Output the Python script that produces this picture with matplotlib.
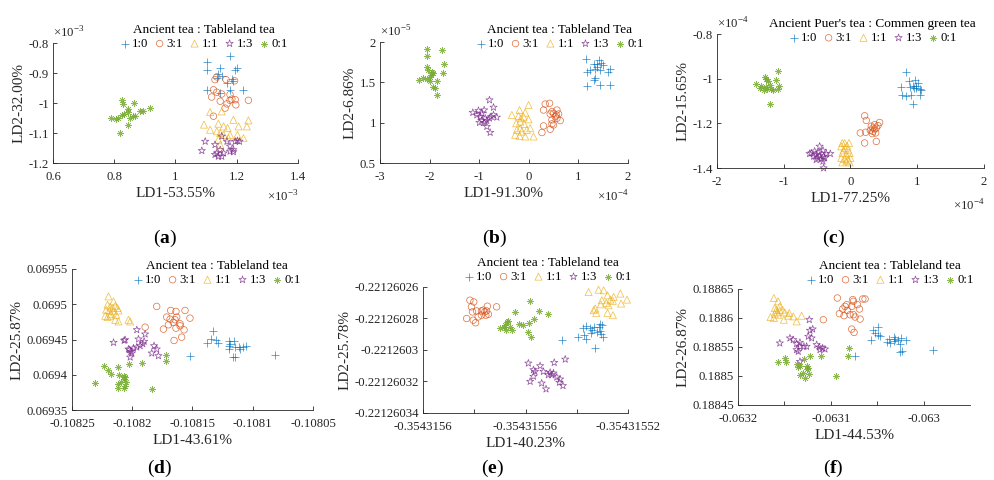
import numpy as np
import matplotlib.pyplot as plt

plt.rcParams['font.family'] = ['Liberation Serif', 'DejaVu Serif']
plt.rcParams['mathtext.fontset'] = 'custom'
plt.rcParams['mathtext.rm'] = 'Liberation Serif'
plt.rcParams['mathtext.bf'] = 'Liberation Serif:bold'
plt.rcParams['axes.unicode_minus'] = False

GROUPS = ['1:0', '3:1', '1:1', '1:3', '0:1']
COLORS = ['#0072BD', '#D95319', '#EDB120', '#7E2F8E', '#77AC30']
ASTER = (8, 2, 0)
MARKERS = ['+', 'o', '^', '*', ASTER]
SIZES = [28, 22, 26, 30, 20]

# ---- (a)  x, y in units of 1e-3
a_x_10 = [1.102, 1.104, 1.146, 1.178, 1.189, 1.135, 1.151, 1.195, 1.200, 1.178, 1.222, 1.102, 1.146, 1.168, 1.184, 1.140]
a_y_10 = [-0.864, -0.889, -0.883, -0.844, -0.926, -0.917, -0.909, -0.889, -0.883, -0.956, -0.956, -0.956, -0.967, -0.933, -0.920, -0.902]
a_x_31 = [1.129, 1.135, 1.165, 1.193, 1.124, 1.135, 1.151, 1.178, 1.118, 1.146, 1.162, 1.178, 1.195, 1.197, 1.238, 1.124, 1.168, 1.184]
a_y_31 = [-0.922, -0.913, -0.922, -0.926, -0.956, -0.964, -0.970, -0.972, -0.980, -0.994, -1.017, -0.991, -0.989, -1.006, -0.991, -1.044, -1.003, -0.987]
a_x_11 = [1.113, 1.093, 1.151, 1.140, 1.157, 1.170, 1.189, 1.238, 1.206, 1.233, 1.113, 1.135, 1.146, 1.157, 1.178, 1.202, 1.222, 1.140, 1.173, 1.146]
a_y_11 = [-1.030, -1.072, -1.028, -1.069, -1.078, -1.083, -1.056, -1.058, -1.078, -1.078, -1.089, -1.094, -1.100, -1.106, -1.106, -1.106, -1.117, -1.122, -1.117, -1.139]
a_x_13 = [1.097, 1.086, 1.129, 1.151, 1.168, 1.178, 1.189, 1.202, 1.209, 1.135, 1.146, 1.157, 1.140, 1.151, 1.129, 1.178, 1.189, 1.195]
a_y_13 = [-1.128, -1.159, -1.139, -1.111, -1.128, -1.144, -1.156, -1.126, -1.128, -1.167, -1.156, -1.167, -1.178, -1.178, -1.172, -1.161, -1.163, -1.128]
a_x_01 = [0.826, 0.827, 0.865, 0.846, 0.862, 0.791, 0.807, 0.824, 0.831, 0.846, 0.884, 0.893, 0.917, 0.867, 0.846, 0.820, 0.813, 0.851]
a_y_01 = [-0.989, -1.002, -1.000, -1.020, -1.044, -1.050, -1.053, -1.039, -1.036, -1.031, -1.028, -1.028, -1.017, -1.044, -1.072, -1.100, -1.050, -1.050]

# ---- (b)  x in 1e-4, y in 1e-5
b_x_10 = [1.159, 1.307, 1.374, 1.341, 1.408, 1.455, 1.428, 1.495, 1.643, 1.590, 1.172, 1.240, 1.341, 1.307, 1.172, 1.428, 1.643, 1.374]
b_y_10 = [1.794, 1.733, 1.733, 1.671, 1.774, 1.741, 1.651, 1.712, 1.671, 1.630, 1.630, 1.651, 1.548, 1.527, 1.453, 1.466, 1.466, 1.692]
b_x_31 = [0.331, 0.419, 0.297, 0.466, 0.432, 0.499, 0.600, 0.533, 0.567, 0.634, 0.466, 0.499, 0.297, 0.264, 0.432, 0.466, 0.553, 0.567]
b_y_31 = [1.231, 1.240, 1.157, 1.137, 1.108, 1.116, 1.108, 1.075, 1.055, 1.026, 1.034, 0.972, 0.960, 0.878, 0.919, 0.985, 1.096, 1.157]
b_x_11 = [-0.342, -0.187, -0.005, -0.073, -0.207, -0.106, -0.005, -0.174, -0.254, -0.093, 0.028, -0.174, -0.275, -0.187, -0.073, 0.096, -0.140, -0.039, -0.241, -0.160]
b_y_11 = [1.096, 1.157, 1.219, 1.125, 1.083, 1.075, 1.042, 1.014, 0.993, 0.985, 0.931, 0.931, 0.849, 0.837, 0.829, 0.829, 0.890, 0.911, 0.911, 1.055]
b_x_13 = [-0.793, -0.712, -1.129, -1.015, -0.900, -0.981, -0.948, -0.900, -0.847, -0.793, -0.759, -0.712, -0.847, -0.779, -0.995, -0.645, -0.880, -1.048, -0.948]
b_y_13 = [1.281, 1.190, 1.125, 1.149, 1.157, 1.075, 1.026, 1.001, 1.026, 1.055, 1.075, 1.096, 0.952, 0.878, 1.001, 1.067, 1.055, 1.096, 1.116]
b_x_01 = [-2.058, -1.742, -2.058, -1.708, -2.044, -2.024, -1.957, -1.923, -1.970, -2.206, -2.125, -2.058, -1.856, -1.735, -1.991, -1.923, -1.890, -1.856, -1.991]
b_y_01 = [1.918, 1.905, 1.823, 1.725, 1.692, 1.651, 1.630, 1.618, 1.589, 1.527, 1.548, 1.540, 1.519, 1.610, 1.515, 1.437, 1.425, 1.342, 1.568]

# ---- (c)  x, y in 1e-4
c_x_10 = [0.826, 0.896, 0.876, 0.936, 0.946, 0.976, 1.011, 0.986, 1.046, 1.036, 0.911, 0.836, 0.761, 0.777, 0.936, 1.061, 0.961]
c_y_10 = [-0.972, -1.037, -1.012, -1.031, -1.042, -1.031, -1.019, -1.042, -1.046, -1.072, -1.075, -1.076, -1.037, -1.072, -1.112, -1.049, -1.007]
c_x_31 = [0.212, 0.237, 0.312, 0.362, 0.337, 0.362, 0.387, 0.412, 0.437, 0.377, 0.327, 0.227, 0.147, 0.212, 0.387, 0.337, 0.297]
c_y_31 = [-1.166, -1.187, -1.213, -1.206, -1.236, -1.225, -1.221, -1.210, -1.196, -1.243, -1.246, -1.240, -1.243, -1.288, -1.281, -1.221, -1.231]
c_x_11 = [-0.122, -0.087, -0.022, -0.137, -0.087, -0.037, -0.122, -0.062, -0.012, -0.137, -0.087, -0.037, -0.002, -0.122, -0.062, -0.012, -0.102, -0.052]
c_y_11 = [-1.288, -1.288, -1.288, -1.303, -1.310, -1.318, -1.333, -1.340, -1.333, -1.355, -1.360, -1.363, -1.355, -1.375, -1.370, -1.375, -1.321, -1.300]
c_x_13 = [-0.462, -0.587, -0.537, -0.472, -0.412, -0.512, -0.462, -0.402, -0.362, -0.302, -0.552, -0.487, -0.437, -0.387, -0.512, -0.412, -0.402, -0.612]
c_y_13 = [-1.303, -1.333, -1.325, -1.330, -1.321, -1.340, -1.345, -1.348, -1.336, -1.336, -1.348, -1.355, -1.360, -1.355, -1.363, -1.370, -1.400, -1.336]
c_x_01 = [-1.086, -1.286, -1.111, -1.411, -1.336, -1.271, -1.236, -1.211, -1.186, -1.251, -1.161, -1.086, -1.361, -1.301, -1.071, -1.201, -1.261]
c_y_01 = [-0.967, -0.994, -1.004, -1.024, -1.031, -1.037, -1.012, -1.027, -1.046, -1.046, -1.052, -1.046, -1.042, -1.052, -1.034, -1.112, -1.001]

# ---- (d)
d_x_10 = [-0.1081328, -0.1081350, -0.1081306, -0.1081286, -0.1081377, -0.1081521, -0.1081195, -0.1081195, -0.1081195, -0.1081157, -0.1081148, -0.1081107, -0.1081112, -0.1081162, -0.1081148, -0.1081079, -0.1081052, -0.1080817, -0.1081190]
d_y_10 = [0.0694614, 0.0694505, 0.0694495, 0.0694448, 0.0694448, 0.0694268, 0.0694472, 0.0694410, 0.0694363, 0.0694472, 0.0694400, 0.0694363, 0.0694391, 0.0694258, 0.0694249, 0.0694400, 0.0694410, 0.0694282, 0.0694438]
d_x_31 = [-0.1081797, -0.1081893, -0.1081681, -0.1081714, -0.1081686, -0.1081637, -0.1081631, -0.1081645, -0.1081562, -0.1081521, -0.1081741, -0.1081700, -0.1081659, -0.1081603, -0.1081570, -0.1081637, -0.1081590, -0.1081653, -0.1081603]
d_y_31 = [0.0694969, 0.0694675, 0.0694912, 0.0694818, 0.0694789, 0.0694898, 0.0694818, 0.0694780, 0.0694912, 0.0694803, 0.0694647, 0.0694709, 0.0694742, 0.0694723, 0.0694637, 0.0694661, 0.0694533, 0.0694486, 0.0694694]
d_x_11 = [-0.1082197, -0.1082155, -0.1082205, -0.1082183, -0.1082141, -0.1082122, -0.1082216, -0.1082188, -0.1082155, -0.1082114, -0.1082224, -0.1082205, -0.1082183, -0.1082141, -0.1082114, -0.1082031, -0.1082017, -0.1082177, -0.1082133, -0.1082161]
d_y_11 = [0.0695111, 0.0695040, 0.0694993, 0.0694969, 0.0694979, 0.0694946, 0.0694922, 0.0694912, 0.0694898, 0.0694912, 0.0694837, 0.0694818, 0.0694837, 0.0694780, 0.0694756, 0.0694780, 0.0694756, 0.0694865, 0.0694851, 0.0694946]
d_x_13 = [-0.1081962, -0.1081893, -0.1082155, -0.1082067, -0.1082059, -0.1081948, -0.1082031, -0.1082012, -0.1082003, -0.1082017, -0.1081990, -0.1081962, -0.1081934, -0.1081912, -0.1081901, -0.1081819, -0.1081797, -0.1081838, -0.1081783, -0.1082023]
d_y_13 = [0.0694637, 0.0694576, 0.0694457, 0.0694486, 0.0694495, 0.0694505, 0.0694363, 0.0694329, 0.0694306, 0.0694249, 0.0694377, 0.0694391, 0.0694410, 0.0694438, 0.0694472, 0.0694410, 0.0694363, 0.0694306, 0.0694268, 0.0694353]
d_x_01 = [-0.1082238, -0.1082197, -0.1082177, -0.1082122, -0.1082106, -0.1082067, -0.1082023, -0.1082072, -0.1082094, -0.1082056, -0.1082050, -0.1082114, -0.1082122, -0.1082067, -0.1082059, -0.1082307, -0.1081921, -0.1081838, -0.1081722, -0.1081722]
d_y_01 = [0.0694126, 0.0694069, 0.0694012, 0.0694107, 0.0693998, 0.0693983, 0.0694149, 0.0693936, 0.0693903, 0.0693964, 0.0693903, 0.0693870, 0.0693808, 0.0693808, 0.0693846, 0.0693879, 0.0694164, 0.0693794, 0.0694282, 0.0694197]

# ---- (e)
e_x_10 = [-0.3543155458, -0.3543155397, -0.3543155374, -0.3543155363, -0.3543155350, -0.3543155341, -0.3543155370, -0.3543155363, -0.3543155328, -0.3543155321, -0.3543155311, -0.3543155302, -0.3543155306, -0.3543155298, -0.3543155315, -0.3543155345, -0.3543155334, -0.3543155308]
e_y_10 = [-0.2212602937, -0.2212602920, -0.2212602863, -0.2212602848, -0.2212602863, -0.2212602874, -0.2212602905, -0.2212602933, -0.2212602989, -0.2212602884, -0.2212602878, -0.2212602842, -0.2212602899, -0.2212602916, -0.2212602857, -0.2212602891, -0.2212602857, -0.2212602832]
e_x_31 = [-0.3543155817, -0.3543155802, -0.3543155811, -0.3543155807, -0.3543155791, -0.3543155830, -0.3543155804, -0.3543155795, -0.3543155785, -0.3543155772, -0.3543155765, -0.3543155759, -0.3543155752, -0.3543155749, -0.3543155745, -0.3543155713, -0.3543155772, -0.3543155755]
e_y_31 = [-0.2212602684, -0.2212602695, -0.2212602726, -0.2212602758, -0.2212602752, -0.2212602800, -0.2212602811, -0.2212602827, -0.2212602790, -0.2212602779, -0.2212602747, -0.2212602758, -0.2212602752, -0.2212602722, -0.2212602773, -0.2212602726, -0.2212602752, -0.2212602779]
e_x_11 = [-0.3543155354, -0.3543155315, -0.3543155295, -0.3543155280, -0.3543155256, -0.3543155230, -0.3543155204, -0.3543155269, -0.3543155302, -0.3543155285, -0.3543155276, -0.3543155259, -0.3543155227, -0.3543155334, -0.3543155324, -0.3543155328, -0.3543155280, -0.3543155259, -0.3543155306]
e_y_11 = [-0.2212602632, -0.2212602617, -0.2212602621, -0.2212602653, -0.2212602663, -0.2212602642, -0.2212602680, -0.2212602680, -0.2212602684, -0.2212602701, -0.2212602716, -0.2212602688, -0.2212602705, -0.2212602747, -0.2212602764, -0.2212602737, -0.2212602764, -0.2212602779, -0.2212602710]
e_x_13 = [-0.3543155589, -0.3543155543, -0.3543155563, -0.3543155569, -0.3543155582, -0.3543155530, -0.3543155504, -0.3543155488, -0.3543155445, -0.3543155498, -0.3543155478, -0.3543155465, -0.3543155468, -0.3543155454, -0.3543155537, -0.3543155520, -0.3543155511, -0.3543155491, -0.3543155569]
e_y_13 = [-0.2212603084, -0.2212603101, -0.2212603137, -0.2212603168, -0.2212603200, -0.2212603137, -0.2212603143, -0.2212603080, -0.2212603059, -0.2212603158, -0.2212603173, -0.2212603185, -0.2212603206, -0.2212603227, -0.2212603211, -0.2212603248, -0.2212603158, -0.2212603147, -0.2212603126]
e_x_01 = [-0.3543155582, -0.3543155641, -0.3543155546, -0.3543155514, -0.3543155674, -0.3543155680, -0.3543155700, -0.3543155684, -0.3543155661, -0.3543155654, -0.3543155624, -0.3543155608, -0.3543155585, -0.3543155567, -0.3543155589, -0.3543155580, -0.3543155676, -0.3543155667]
e_y_01 = [-0.2212602691, -0.2212602758, -0.2212602752, -0.2212602773, -0.2212602821, -0.2212602842, -0.2212602863, -0.2212602857, -0.2212602857, -0.2212602874, -0.2212602832, -0.2212602842, -0.2212602827, -0.2212602804, -0.2212602884, -0.2212602920, -0.2212602874, -0.2212602815]

# ---- (f)
f_x_10 = [-0.0630497, -0.0630548, -0.0630487, -0.0630523, -0.0630469, -0.0630569, -0.0630368, -0.0630396, -0.0630324, -0.0630306, -0.0630281, -0.0630259, -0.0630245, -0.0630187, -0.0630324, -0.0630252, -0.0630234, -0.0629899, -0.0630739, -0.0630360]
f_y_10 = [0.1885843, 0.1885785, 0.1885710, 0.1885739, 0.1885682, 0.1885624, 0.1885635, 0.1885578, 0.1885670, 0.1885635, 0.1885612, 0.1885555, 0.1885653, 0.1885624, 0.1885595, 0.1885405, 0.1885439, 0.1885451, 0.1885336, 0.1885566]
f_x_31 = [-0.0630930, -0.0630872, -0.0630847, -0.0630829, -0.0630764, -0.0630757, -0.0630714, -0.0630656, -0.0630631, -0.0630908, -0.0630858, -0.0630793, -0.0630757, -0.0630739, -0.0630692, -0.0630685, -0.0630775, -0.0630750, -0.0631081, -0.0630822, -0.0630775]
f_y_31 = [0.1886344, 0.1886154, 0.1886200, 0.1886229, 0.1886316, 0.1886287, 0.1886229, 0.1886327, 0.1886327, 0.1886074, 0.1886039, 0.1886056, 0.1886056, 0.1886016, 0.1886154, 0.1885981, 0.1885808, 0.1885751, 0.1885970, 0.1886131, 0.1886200]
f_x_11 = [-0.0631614, -0.0631568, -0.0631604, -0.0631586, -0.0631550, -0.0631521, -0.0631496, -0.0631449, -0.0631650, -0.0631614, -0.0631568, -0.0631506, -0.0631459, -0.0631405, -0.0631369, -0.0631315, -0.0631550, -0.0631604, -0.0631578]
f_y_11 = [0.1886344, 0.1886287, 0.1886172, 0.1886143, 0.1886200, 0.1886143, 0.1886097, 0.1886085, 0.1886016, 0.1885999, 0.1886056, 0.1885970, 0.1886039, 0.1886027, 0.1885941, 0.1886039, 0.1886131, 0.1886074, 0.1886097]
f_x_13 = [-0.0631232, -0.0631225, -0.0631441, -0.0631405, -0.0631550, -0.0631369, -0.0631333, -0.0631290, -0.0631261, -0.0631243, -0.0631207, -0.0631153, -0.0631124, -0.0631088, -0.0631063, -0.0631117, -0.0631369, -0.0631351, -0.0631333, -0.0631333, -0.0631196]
f_y_13 = [0.1885970, 0.1885785, 0.1885653, 0.1885624, 0.1885566, 0.1885555, 0.1885578, 0.1885509, 0.1885509, 0.1885682, 0.1885653, 0.1885538, 0.1885497, 0.1885480, 0.1885463, 0.1885451, 0.1885451, 0.1885422, 0.1885509, 0.1885249, 0.1885808]
f_x_01 = [-0.0631568, -0.0631496, -0.0631478, -0.0631362, -0.0631351, -0.0631333, -0.0631290, -0.0631261, -0.0631243, -0.0631225, -0.0631110, -0.0631333, -0.0631297, -0.0631279, -0.0631232, -0.0630944, -0.0630800, -0.0630811, -0.0631261]
f_y_01 = [0.1885249, 0.1885307, 0.1885249, 0.1885209, 0.1885163, 0.1885174, 0.1885290, 0.1885174, 0.1885134, 0.1885347, 0.1885347, 0.1885019, 0.1885048, 0.1884961, 0.1885030, 0.1885001, 0.1885480, 0.1885347, 0.1885117]

# ---- axis ticks and labels
a_xt = [0.6, 0.8, 1.0, 1.2, 1.4]
a_xtl = ['0.6', '0.8', '1', '1.2', '1.4']
a_yt = [-1.2, -1.1, -1.0, -0.9, -0.8]
a_ytl = ['-1.2', '-1.1', '-1', '-0.9', '-0.8']
b_xt = [-3, -2, -1, 0, 1, 2]
b_xtl = ['-3', '-2', '-1', '0', '1', '2']
b_yt = [0.5, 1.0, 1.5, 2.0]
b_ytl = ['0.5', '1', '1.5', '2']
c_xt = [-2, -1, 0, 1, 2]
c_xtl = ['-2', '-1', '0', '1', '2']
c_yt = [-1.4, -1.2, -1.0, -0.8]
c_ytl = ['-1.4', '-1.2', '-1', '-0.8']
d_xt = [-0.10825, -0.1082, -0.10815, -0.1081, -0.10805]
d_xtl = ['-0.10825', '-0.1082', '-0.10815', '-0.1081', '-0.10805']
d_yt = [0.06935, 0.0694, 0.06945, 0.0695, 0.06955]
d_ytl = ['0.06935', '0.0694', '0.06945', '0.0695', '0.06955']
e_xt = [-0.3543156, -0.35431558, -0.35431556, -0.35431554, -0.35431552]
e_xtl = ['-0.3543156', '', '-0.35431556', '', '-0.35431552']
e_yt = [-0.22126034, -0.22126032, -0.2212603, -0.22126028, -0.22126026]
e_ytl = ['-0.22126034', '-0.22126032', '-0.2212603', '-0.22126028', '-0.22126026']
f_xt = [-0.0632, -0.06315, -0.0631, -0.06305, -0.063]
f_xtl = ['-0.0632', '', '-0.0631', '', '-0.063']
f_yt = [0.18845, 0.1885, 0.18855, 0.1886, 0.18865]
f_ytl = ['0.18845', '0.1885', '0.18855', '0.1886', '0.18865']

TITLE_1 = 'Ancient tea : Tableland tea'
TITLE_2 = 'Ancient tea : Tableland Tea'
TITLE_3 = "Ancient Puer's tea : Commen green tea"

fig = plt.figure(figsize=(9.94, 4.8), dpi=100)


def panel(rect, xs, ys, xlim, ylim, ticks, xlabel, ylabel, title, leg_xy,
          tag, tag_xy, xexp=None, yexp=None):
    ax = fig.add_axes(rect)
    for x, y, c, m, s, lab in zip(xs, ys, COLORS, MARKERS, SIZES, GROUPS):
        if m in ('+', ASTER):
            ax.scatter(x, y, s=s, marker=m, c=c, linewidths=0.5, alpha=0.85,
                       label=lab, clip_on=False)
        else:
            ax.scatter(x, y, s=s, marker=m, facecolors='none', edgecolors=c,
                       linewidths=0.5, alpha=0.85, label=lab, clip_on=False)
    ax.set_xlim(xlim)
    ax.set_ylim(ylim)
    xt, xtl, yt, ytl = ticks
    ax.set_xticks(xt)
    ax.set_xticklabels(xtl)
    ax.set_yticks(yt)
    ax.set_yticklabels(ytl)
    for side in ['top', 'right']:
        ax.spines[side].set_visible(False)
    for side in ['left', 'bottom']:
        ax.spines[side].set_color('#262626')
        ax.spines[side].set_linewidth(0.6)
    ax.tick_params(direction='in', length=3, width=0.6, labelsize=9.2,
                   colors='#262626')
    ax.tick_params(axis='x', pad=5.5)
    ax.tick_params(axis='y', pad=3)
    ax.set_xlabel(xlabel, fontsize=11, color='#262626', labelpad=3)
    ax.set_ylabel(ylabel, fontsize=11, color='#262626', labelpad=2)
    ax.legend(ncol=5, frameon=False, title=title, loc='center',
              bbox_to_anchor=leg_xy, bbox_transform=fig.transFigure,
              fontsize=9.2, title_fontsize=9.5, handletextpad=0.15,
              columnspacing=0.5, handlelength=0.8, borderpad=0.1,
              labelspacing=0.15, scatterpoints=1)
    if yexp:
        ax.text(0.0, 1.02, r'$\times10^{%d}$' % yexp, transform=ax.transAxes,
                ha='left', va='bottom', fontsize=9.2, color='#262626')
    if xexp:
        ax.text(1.0, -0.28, r'$\times10^{%d}$' % xexp, transform=ax.transAxes,
                ha='right', va='center', fontsize=9.2, color='#262626')
    fig.text(tag_xy[0], tag_xy[1], r'($\mathbf{%s}$)' % tag, fontsize=14,
             ha='center', va='center')
    return ax


panel([0.0533, 0.6604, 0.2465, 0.25],
      [a_x_10, a_x_31, a_x_11, a_x_13, a_x_01], [a_y_10, a_y_31, a_y_11, a_y_13, a_y_01],
      (0.6, 1.4), (-1.2, -0.8), (a_xt, a_xtl, a_yt, a_ytl),
      'LD1-53.55%', 'LD2-32.00%', TITLE_1, (0.205, 0.923), 'a', (0.166, 0.504), -3, -3)

panel([0.3823, 0.6604, 0.2495, 0.252],
      [b_x_10, b_x_31, b_x_11, b_x_13, b_x_01], [b_y_10, b_y_31, b_y_11, b_y_13, b_y_01],
      (-3, 2), (0.5, 2.0), (b_xt, b_xtl, b_yt, b_ytl),
      'LD1-91.30%', 'LD2-6.86%', TITLE_2, (0.563, 0.923), 'b', (0.498, 0.504), -4, -5)

panel([0.7213, 0.65, 0.2686, 0.279],
      [c_x_10, c_x_31, c_x_11, c_x_13, c_x_01], [c_y_10, c_y_31, c_y_11, c_y_13, c_y_01],
      (-2, 2), (-1.4, -0.8), (c_xt, c_xtl, c_yt, c_ytl),
      'LD1-77.25%', 'LD2-15.65%', TITLE_3, (0.878, 0.935), 'c', (0.838, 0.504), -4, -4)

panel([0.0724, 0.1458, 0.2425, 0.2938],
      [d_x_10, d_x_31, d_x_11, d_x_13, d_x_01], [d_y_10, d_y_31, d_y_11, d_y_13, d_y_01],
      (-0.10825, -0.10805), (0.06935, 0.06955), (d_xt, d_xtl, d_yt, d_ytl),
      'LD1-43.61%', 'LD2-25.87%', TITLE_1, (0.218, 0.431), 'd', (0.161, 0.025))

panel([0.4256, 0.1396, 0.2062, 0.2625],
      [e_x_10, e_x_31, e_x_11, e_x_13, e_x_01], [e_y_10, e_y_31, e_y_11, e_y_13, e_y_01],
      (-0.3543156, -0.35431552), (-0.22126034, -0.22126026), (e_xt, e_xtl, e_yt, e_ytl),
      'LD1-40.23%', 'LD2-25.78%', TITLE_1, (0.551, 0.4375), 'e', (0.495, 0.025))

panel([0.7425, 0.1563, 0.2334, 0.2417],
      [f_x_10, f_x_31, f_x_11, f_x_13, f_x_01], [f_y_10, f_y_31, f_y_11, f_y_13, f_y_01],
      (-0.0632, -0.06295), (0.18845, 0.18865), (f_xt, f_xtl, f_yt, f_ytl),
      'LD1-44.53%', 'LD2-26.87%', TITLE_1, (0.895, 0.431), 'f', (0.838, 0.025))

fig.savefig('out.png', dpi=100)
